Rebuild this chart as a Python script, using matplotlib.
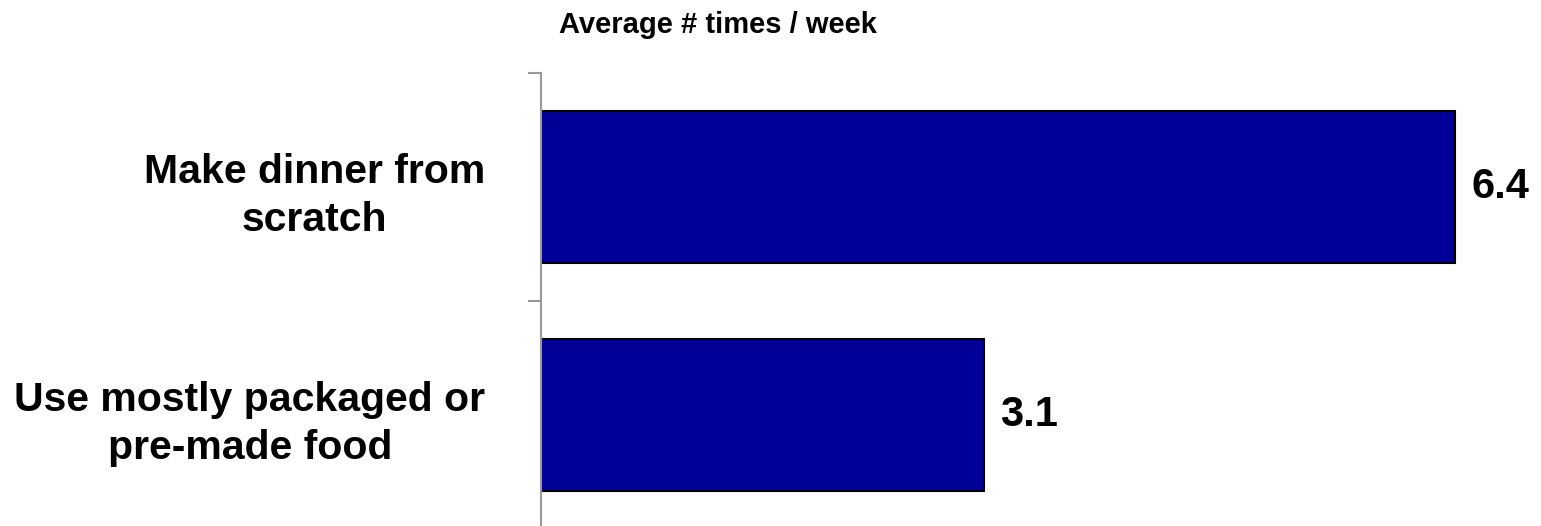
import matplotlib
matplotlib.use("Agg")
import matplotlib.pyplot as plt

categories = ["Make dinner from\nscratch", "Use mostly packaged or\npre-made food"]
values = [6.4, 3.1]
value_labels = ["6.4", "3.1"]
title = "Average # times / week"

plt.rcParams["font.family"] = ["Liberation Sans", "DejaVu Sans"]
plt.rcParams["font.weight"] = "bold"

fig = plt.figure(figsize=(15.41, 5.26), dpi=100)
ax = fig.add_axes([541 / 1541, -3 / 526, 1000 / 1541, 456 / 526])

pos = list(range(len(categories)))
ax.barh(pos, values, height=0.667, color="#000099", edgecolor="black", linewidth=1.5)

ax.set_xlim(0, 7)
ax.set_ylim(len(categories) - 0.5, -0.5)

for s in ["top", "right", "bottom"]:
    ax.spines[s].set_visible(False)
ax.spines["left"].set_color("#999999")
ax.spines["left"].set_linewidth(1.5)
ax.set_xticks([])

# major ticks at category boundaries, labels on minor ticks at category centres
ax.set_yticks([p - 0.5 for p in pos] + [len(categories) - 0.5])
ax.set_yticklabels([])
ax.tick_params(axis="y", which="major", direction="out", length=9.5, width=1.5, color="#999999")
ax.set_yticks(pos, minor=True)
ax.set_yticklabels(categories, minor=True, fontsize=29.5, fontweight="bold")
ax.tick_params(axis="y", which="minor", length=0, pad=40)
for lbl in ax.get_yticklabels(minor=True):
    lbl.set_multialignment("center")
    lbl.set_linespacing(1.33)

for p, v, t in zip(pos, values, value_labels):
    ax.annotate(t, xy=(v, p), xytext=(12, 0), textcoords="offset points",
                ha="left", va="center", fontsize=30, fontweight="bold")

fig.text(718 / 1541, 1 - 25 / 526, title, ha="center", va="center",
         fontsize=21, fontweight="bold")

fig.savefig("out.png", dpi=100)
